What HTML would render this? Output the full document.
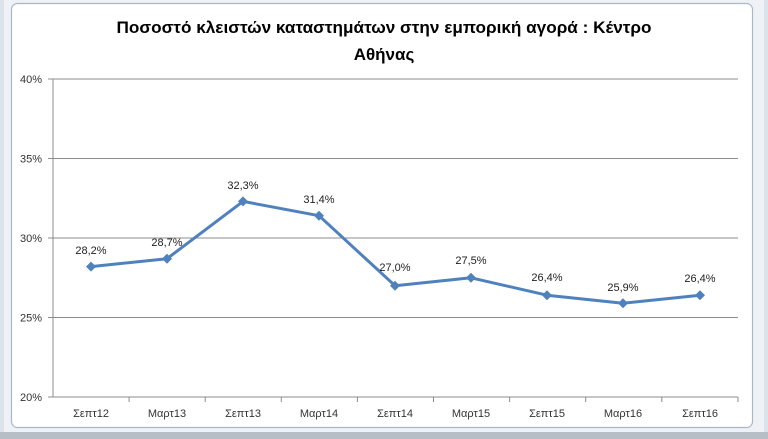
<!DOCTYPE html>
<html><head><meta charset="utf-8"><style>
html,body{margin:0;padding:0;background:#fff;width:768px;height:439px;overflow:hidden}
</style></head><body>
<svg width="768" height="439" xmlns="http://www.w3.org/2000/svg" font-family="'Liberation Sans','DejaVu Sans',sans-serif">
<rect x="0" y="0" width="768" height="439" fill="#dde3ea"/>
<rect x="4" y="0" width="760" height="434" fill="#eef2f6"/>
<rect x="11.5" y="3.5" width="741" height="424" rx="6" fill="#fff" stroke="#a9b8c9" stroke-width="1.2"/>
<rect x="0" y="432" width="768" height="7" fill="#b8bec6"/>
<text x="384" y="33" text-anchor="middle" font-size="17" font-weight="bold" fill="#000" textLength="535" lengthAdjust="spacingAndGlyphs">Ποσοστό κλειστών καταστημάτων στην εμπορική αγορά : Κέντρο</text>
<text x="384" y="60" text-anchor="middle" font-size="17" font-weight="bold" fill="#000">Αθήνας</text>
<g stroke="#8c8c8c" stroke-width="1">
<line x1="48" y1="79" x2="738" y2="79"/>
<line x1="48" y1="158.5" x2="738" y2="158.5"/>
<line x1="48" y1="238" x2="738" y2="238"/>
<line x1="48" y1="317.5" x2="738" y2="317.5"/>
<line x1="48" y1="397" x2="738" y2="397"/>
<line x1="53" y1="79" x2="53" y2="397"/>
<line x1="129.1" y1="397" x2="129.1" y2="402"/><line x1="205.2" y1="397" x2="205.2" y2="402"/><line x1="281.3" y1="397" x2="281.3" y2="402"/><line x1="357.4" y1="397" x2="357.4" y2="402"/><line x1="433.5" y1="397" x2="433.5" y2="402"/><line x1="509.6" y1="397" x2="509.6" y2="402"/><line x1="585.7" y1="397" x2="585.7" y2="402"/><line x1="661.8" y1="397" x2="661.8" y2="402"/><line x1="738" y1="397" x2="738" y2="402"/>
</g>
<g font-size="11" fill="#333" text-anchor="end">
<text x="42" y="83">40%</text><text x="42" y="162.5">35%</text><text x="42" y="242">30%</text><text x="42" y="321.5">25%</text><text x="42" y="401">20%</text>
</g>
<g font-size="11" fill="#333" text-anchor="middle">
<text x="91" y="417">Σεπτ12</text><text x="167" y="417">Μαρτ13</text><text x="243" y="417">Σεπτ13</text><text x="319" y="417">Μαρτ14</text><text x="395" y="417">Σεπτ14</text><text x="471" y="417">Μαρτ15</text><text x="547" y="417">Σεπτ15</text><text x="623" y="417">Μαρτ16</text><text x="700" y="417">Σεπτ16</text>
</g>
<polyline fill="none" stroke="#4f81bd" stroke-width="3" stroke-linejoin="round" points="91,266.6 167,258.7 243,201.4 319,215.7 395,285.7 471,277.8 547,295.2 623,303.2 700,295.2"/>
<g fill="#4f81bd">
<path d="M91 261.6l5 5-5 5-5-5z"/><path d="M167 253.7l5 5-5 5-5-5z"/><path d="M243 196.4l5 5-5 5-5-5z"/><path d="M319 210.7l5 5-5 5-5-5z"/><path d="M395 280.7l5 5-5 5-5-5z"/><path d="M471 272.8l5 5-5 5-5-5z"/><path d="M547 290.2l5 5-5 5-5-5z"/><path d="M623 298.2l5 5-5 5-5-5z"/><path d="M700 290.2l5 5-5 5-5-5z"/>
</g>
<g font-size="11" fill="#222" text-anchor="middle">
<text x="91" y="254">28,2%</text><text x="167" y="246">28,7%</text><text x="243" y="189">32,3%</text><text x="319" y="203">31,4%</text><text x="395" y="271">27,0%</text><text x="471" y="264">27,5%</text><text x="547" y="281">26,4%</text><text x="623" y="291">25,9%</text><text x="700" y="282">26,4%</text>
</g>
</svg>
</body></html>
